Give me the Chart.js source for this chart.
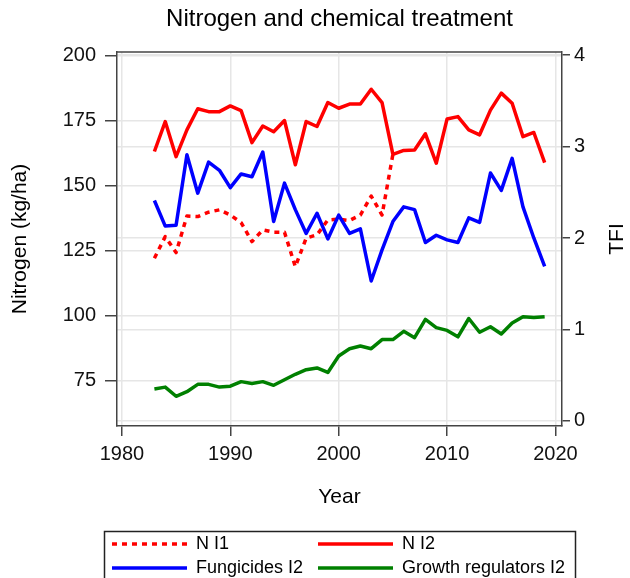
<!DOCTYPE html>
<html>
<head>
<meta charset="utf-8">
<script src="https://cdn.jsdelivr.net/npm/chart.js@4/dist/chart.umd.min.js"></script>
<style>
html,body{margin:0;padding:0;background:#fff;}
#wrap{width:630px;height:578px;position:relative;}
</style>
</head>
<body>
<div id="wrap"><canvas id="c" width="630" height="578"></canvas></div>
<script>
// ---- data ----
const years = [1983,1984,1985,1986,1987,1988,1989,1990,1991,1992,1993,1994,1995,1996,1997,1998,1999,2000,2001,2002,2003,2004,2005,2006,2007,2008,2009,2010,2011,2012,2013,2014,2015,2016,2017,2018,2019];
const nI1Years = [1983,1984,1985,1986,1987,1988,1989,1990,1991,1992,1993,1994,1995,1996,1997,1998,1999,2000,2001,2002,2003,2004,2005];
const nI1 = [122.1,130.4,124.3,138.3,138.1,139.8,140.7,138.7,135.8,128.5,133,132.1,132.1,118.9,129.8,131.1,136.8,137.1,136.6,138.7,146,138.7,162];
const nI2 = [163.1,174.6,161.1,171.4,179.5,178.4,178.4,180.6,178.8,166.5,172.9,170.7,175,158,174.6,172.7,181.9,179.7,181.3,181.3,187,181.9,162,163.5,163.7,169.9,158.6,175.6,176.5,171.4,169.5,179,185.5,181.6,168.8,170.4,158.8];
const fungicides = [2.41,2.13,2.14,2.91,2.49,2.83,2.74,2.55,2.70,2.67,2.94,2.18,2.60,2.31,2.05,2.27,1.99,2.25,2.05,2.10,1.53,1.87,2.18,2.34,2.31,1.95,2.03,1.98,1.95,2.22,2.17,2.71,2.52,2.87,2.34,2.00,1.69];
const growthRegulators = [0.35,0.37,0.27,0.32,0.40,0.40,0.37,0.38,0.43,0.41,0.43,0.39,0.45,0.51,0.56,0.58,0.53,0.71,0.79,0.82,0.79,0.89,0.89,0.98,0.91,1.11,1.02,0.99,0.92,1.12,0.97,1.03,0.95,1.07,1.14,1.13,1.14];
const xTicks = [1980,1990,2000,2010,2020];
const leftTicks = [75,100,125,150,175,200];
const rightTicks = [0,1,2,3,4];
const seriesLabels = ['N I1','N I2','Fungicides I2','Growth regulators I2'];
const chartTitle = 'Nitrogen and chemical treatment';
const xTitle = 'Year';
const leftTitle = 'Nitrogen (kg/ha)';
const rightTitle = 'TFI';

const pts = (xs, ys) => xs.map((x, i) => ({x: x, y: ys[i]}));

Chart.defaults.font.family = "'Liberation Sans', Arial, sans-serif";
Chart.defaults.color = '#000';

const GRID = '#e6e6e6';
const AXIS = '#444';

const framePlugin = {
  id: 'frame',
  beforeDatasetsDraw(chart) {
    const a = chart.chartArea, ctx = chart.ctx;
    ctx.save();
    ctx.strokeStyle = AXIS; ctx.lineWidth = 1.5;
    ctx.beginPath(); ctx.moveTo(a.left, a.top); ctx.lineTo(a.right, a.top); ctx.stroke();
    ctx.restore();
  }
};

const rightTitlePlugin = {
  id: 'rightTitle',
  afterDraw(chart) {
    const s = chart.scales.y2, ctx = chart.ctx;
    ctx.save();
    ctx.translate(617, (s.top + s.bottom) / 2);
    ctx.rotate(-Math.PI / 2);
    ctx.font = "21px 'Liberation Sans', Arial, sans-serif";
    ctx.fillStyle = '#000'; ctx.textAlign = 'center'; ctx.textBaseline = 'middle';
    ctx.fillText(s.options.title.text, 0, 0);
    ctx.restore();
  }
};

const legendPlugin = {
  id: 'boxLegend',
  afterDraw(chart) {
    const ctx = chart.ctx;
    ctx.save();
    ctx.strokeStyle = '#222'; ctx.lineWidth = 1.5;
    ctx.strokeRect(104.5, 531.5, 471, 60);
    const cols = [112, 318], rows = [544, 568];
    chart.data.datasets.forEach((ds, i) => {
      const cx = cols[i % 2], cy = rows[Math.floor(i / 2)];
      ctx.beginPath();
      ctx.setLineDash(ds.borderDash || []);
      ctx.strokeStyle = ds.borderColor; ctx.lineWidth = ds.borderWidth;
      ctx.moveTo(cx, cy); ctx.lineTo(cx + 75, cy); ctx.stroke();
      ctx.setLineDash([]);
      ctx.fillStyle = '#000';
      ctx.font = "18px 'Liberation Sans', Arial, sans-serif";
      ctx.textBaseline = 'middle'; ctx.textAlign = 'left';
      ctx.fillText(ds.label, cx + 84, cy);
    });
    ctx.restore();
  }
};

new Chart(document.getElementById('c'), {
  type: 'line',
  data: {
    datasets: [
      {label: seriesLabels[0], data: pts(nI1Years, nI1), yAxisID: 'y', borderColor: '#ff0000', borderWidth: 3.5, borderDash: [5, 5], order: 4},
      {label: seriesLabels[1], data: pts(years, nI2), yAxisID: 'y', borderColor: '#ff0000', borderWidth: 3.5, order: 3},
      {label: seriesLabels[2], data: pts(years, fungicides), yAxisID: 'y2', borderColor: '#0000ff', borderWidth: 3.5, order: 2},
      {label: seriesLabels[3], data: pts(years, growthRegulators), yAxisID: 'y2', borderColor: '#008000', borderWidth: 3.5, order: 1}
    ]
  },
  options: {
    responsive: false,
    animation: false,
    devicePixelRatio: 1,
    layout: {padding: {top: 0, left: 0, right: 0, bottom: 56}},
    elements: {point: {radius: 0}, line: {tension: 0, borderJoinStyle: 'round', fill: false}},
    plugins: {
      legend: {display: false},
      tooltip: {enabled: false},
      title: {display: true, text: chartTitle, fullSize: false, color: '#000',
              font: {size: 24, weight: 'normal'}, padding: {top: 5, bottom: 18.2}}
    },
    scales: {
      x: {
        type: 'linear', min: 1979.55, max: 2020.6,
        afterBuildTicks: s => { s.ticks = xTicks.map(v => ({value: v})); },
        ticks: {font: {size: 20}, color: '#111', padding: 6, maxRotation: 0, autoSkip: false, callback: v => String(v)},
        grid: {color: GRID, lineWidth: 1.5, tickColor: AXIS, tickLength: 10, tickWidth: 1.5},
        border: {display: true, color: AXIS, width: 1.5},
        title: {display: true, text: xTitle, font: {size: 21}, color: '#000', padding: {top: 0, bottom: 12}},
        afterFit: s => { s.height = 96; }
      },
      y: {
        type: 'linear', position: 'left', min: 57.7, max: 201.3,
        afterBuildTicks: s => { s.ticks = leftTicks.map(v => ({value: v})); },
        ticks: {font: {size: 20}, color: '#111', padding: 9, callback: v => String(v)},
        grid: {color: GRID, lineWidth: 1.5, tickColor: AXIS, tickLength: 12, tickWidth: 1.5},
        border: {display: true, color: AXIS, width: 1.5},
        title: {display: true, text: leftTitle, font: {size: 21}, color: '#000', padding: {top: 8, bottom: 0}},
        afterFit: s => { s.width = 117; }
      },
      y2: {
        type: 'linear', position: 'right', min: -0.055, max: 4.033,
        afterBuildTicks: s => { s.ticks = rightTicks.map(v => ({value: v})); },
        ticks: {font: {size: 20}, color: '#111', padding: 4, callback: v => String(v)},
        grid: {color: GRID, lineWidth: 1.5, tickColor: AXIS, tickLength: 8, tickWidth: 1.5},
        border: {display: true, color: AXIS, width: 1.5},
        title: {display: false, text: rightTitle},
        afterFit: s => { s.width = 68; }
      }
    }
  },
  plugins: [framePlugin, rightTitlePlugin, legendPlugin]
});
</script>
</body>
</html>
